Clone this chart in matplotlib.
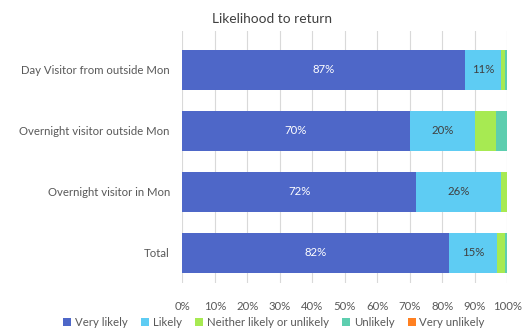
import matplotlib
matplotlib.use("Agg")
import matplotlib.pyplot as plt
import numpy as np

plt.rcParams['font.family'] = ['Lato', 'DejaVu Sans']

categories = ["Day Visitor from outside Mon", "Overnight visitor outside Mon",
              "Overnight visitor in Mon", "Total"]
series_names = ["Very likely", "Likely", "Neither likely or unlikely", "Unlikely", "Very unlikely"]
very_likely = [87, 70, 72, 82]
likely = [11, 20, 26, 15]
neither = [1.4, 6.6, 2, 2.2]
unlikely = [0.6, 3.4, 0, 0.8]
very_unlikely = [0, 0, 0, 0]
x_ticks = [0, 10, 20, 30, 40, 50, 60, 70, 80, 90, 100]

colors = ["#4E67C8", "#5ECCF3", "#A7EA52", "#5DCEAF", "#FF8021"]
label_colors = ["white", "#404040"]

fig = plt.figure(figsize=(5.24, 3.30), dpi=100)
ax = fig.add_axes([0.348, 0.142, 0.620, 0.764])

series = [very_likely, likely, neither, unlikely, very_unlikely]
y = np.arange(len(categories))
left = np.zeros(len(categories))
for i, (vals, name, col) in enumerate(zip(series, series_names, colors)):
    vals = np.array(vals, dtype=float)
    ax.barh(y, vals, left=left, height=0.657, color=col, label=name, zorder=2)
    if i < 2:
        for yi, (l, v) in enumerate(zip(left, vals)):
            ax.text(l + v / 2, yi, f"{v:.0f}%", ha="center", va="center",
                    fontsize=8.2, color=label_colors[i], zorder=3)
    left += vals

ax.set_xlim(0, 100)
ax.set_ylim(3.5, -0.64)
ax.set_xticks(x_ticks)
ax.set_xticklabels([f"{t}%" for t in x_ticks])
ax.set_yticks(y)
ax.set_yticklabels(categories)
ax.tick_params(axis="both", length=0, labelsize=8.2, labelcolor="#595959")
ax.tick_params(axis="y", pad=9)
ax.tick_params(axis="x", pad=13)
ax.grid(axis="x", color="#D9D9D9", linewidth=0.8, zorder=0)
for s in ax.spines.values():
    s.set_visible(False)

fig.text(0.519, 0.942, "Likelihood to return", ha="center", va="center",
         fontsize=9.9, color="#404040")

fig.legend(loc="center", bbox_to_anchor=(0.523, 0.022), ncol=5, frameon=False,
           fontsize=8.2, labelcolor="#595959", handlelength=0.7, handleheight=0.7,
           handletextpad=0.3, columnspacing=1.2)

fig.savefig("out.png", dpi=100)
